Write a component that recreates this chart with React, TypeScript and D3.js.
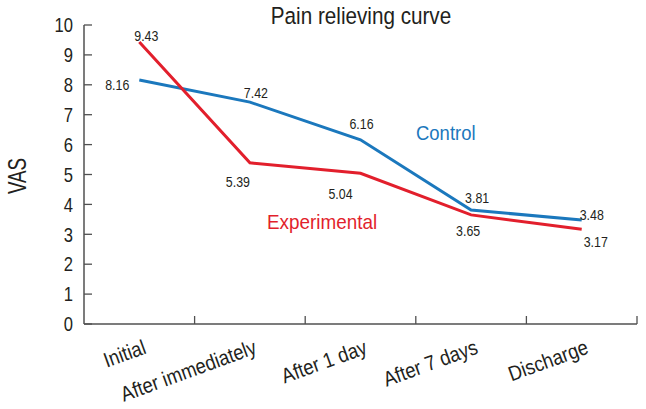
import React from "react";
import * as d3 from "d3";

const categories = ["Initial", "After immediately", "After 1 day", "After 7 days", "Discharge"];
const controlValues = [8.16, 7.42, 6.16, 3.81, 3.48];
const experimentalValues = [9.43, 5.39, 5.04, 3.65, 3.17];
const yTicks = [0, 1, 2, 3, 4, 5, 6, 7, 8, 9, 10];
const titleText = "Pain relieving curve";
const yAxisTitle = "VAS";
const controlName = "Control";
const experimentalName = "Experimental";

// label offsets (dx, dy from point, anchor)
const controlLabelPos: [number, number, string][] = [
  [-10, 10, "end"],
  [6, -4, "middle"],
  [1, -11, "middle"],
  [6, -7, "middle"],
  [-2, 0, "start"],
];
const experimentalLabelPos: [number, number, string][] = [
  [7, -1, "middle"],
  [-12, 24, "middle"],
  [-20, 26, "middle"],
  [-3, 21, "middle"],
  [2, 18, "start"],
];

const W = 646;
const H = 409;
const FONT = "'Liberation Sans', Arial, sans-serif";
const BLUE = "#1b78bd";
const RED = "#e21f2c";
const AXIS = "#505050";
const INK = "#231f20";

type CTProps = {
  x: number;
  y: number;
  sx: number;
  size: number;
  anchor?: string;
  rotate?: number;
  fill?: string;
  dy?: string;
  children: React.ReactNode;
};

function CText({ x, y, sx, size, anchor = "start", rotate = 0, fill = INK, dy, children }: CTProps) {
  return (
    <text
      transform={`translate(${x},${y}) rotate(${rotate}) scale(${sx},1)`}
      textAnchor={anchor}
      fontSize={size}
      fill={fill}
      dy={dy}
    >
      {children}
    </text>
  );
}

export default function App() {
  const x = d3.scaleBand<string>().domain(categories).range([84, 637]);
  const y = d3.scaleLinear().domain([0, 10]).range([324, 25]);
  const cx = (c: string) => (x(c) as number) + x.bandwidth() / 2;
  const line = d3
    .line<number>()
    .x((_, i) => cx(categories[i]))
    .y((d) => y(d));

  const fmt = d3.format(".2f");

  return (
    <svg
      width={W}
      height={H}
      style={{ position: "absolute", left: 0, top: 0, background: "#fff" }}
      fontFamily={FONT}
    >
      <rect width={W} height={H} fill="#fff" />
      <CText x={361} y={24} sx={0.88} size={23.5} anchor="middle">
        {titleText}
      </CText>
      <CText x={26} y={176} sx={0.75} size={25} anchor="middle" rotate={-90}>
        {yAxisTitle}
      </CText>

      {/* y axis */}
      <line x1={84} x2={84} y1={y(10)} y2={y(0)} stroke={AXIS} strokeWidth={1.5} />
      {yTicks.map((t) => (
        <g key={t}>
          <line x1={84} x2={92} y1={y(t)} y2={y(t)} stroke={AXIS} strokeWidth={1.3} />
          <CText x={73} y={y(t)} dy="0.36em" anchor="end" sx={0.83} size={20}>
            {t}
          </CText>
        </g>
      ))}

      {/* x axis */}
      <line x1={84} x2={637} y1={y(0)} y2={y(0)} stroke={AXIS} strokeWidth={1.5} />
      {categories.map((c, i) => (
        <line
          key={"t" + i}
          x1={(x(c) as number) + x.bandwidth()}
          x2={(x(c) as number) + x.bandwidth()}
          y1={y(0)}
          y2={y(0) - 8}
          stroke={AXIS}
          strokeWidth={1.3}
        />
      ))}
      {categories.map((c) => (
        <CText key={c} x={cx(c) + 8} y={353} rotate={-20} anchor="end" sx={0.88} size={21}>
          {c}
        </CText>
      ))}

      {/* lines */}
      <path d={line(controlValues) as string} fill="none" stroke={BLUE} strokeWidth={3} />
      <path d={line(experimentalValues) as string} fill="none" stroke={RED} strokeWidth={3} />

      {/* data labels */}
      {controlValues.map((v, i) => (
        <CText
          key={"c" + i}
          x={cx(categories[i]) + controlLabelPos[i][0]}
          y={y(v) + controlLabelPos[i][1]}
          anchor={controlLabelPos[i][2]}
          sx={0.8}
          size={15.5}
        >
          {fmt(v)}
        </CText>
      ))}
      {experimentalValues.map((v, i) => (
        <CText
          key={"e" + i}
          x={cx(categories[i]) + experimentalLabelPos[i][0]}
          y={y(v) + experimentalLabelPos[i][1]}
          anchor={experimentalLabelPos[i][2]}
          sx={0.8}
          size={15.5}
        >
          {fmt(v)}
        </CText>
      ))}

      {/* series names */}
      <CText x={416} y={140} sx={0.88} size={21} fill={BLUE}>
        {controlName}
      </CText>
      <CText x={267} y={229} sx={0.9} size={21} fill={RED}>
        {experimentalName}
      </CText>
    </svg>
  );
}
